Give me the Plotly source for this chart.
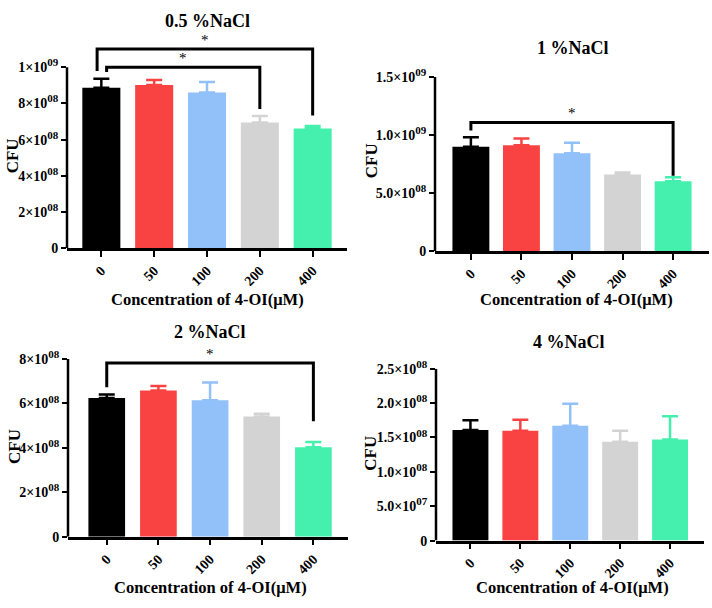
import plotly.graph_objects as go

W, H = 712, 608

# ---------------- data ----------------
conc_labels = ["0", "50", "100", "200", "400"]
bar_colors = ["#000000", "#F94343", "#92C0F8", "#D3D3D3", "#45F0AE"]
panel_titles = ["0.5 %NaCl", "1 %NaCl", "2 %NaCl", "4 %NaCl"]
x_title = "Concentration of 4-OI(μM)"
y_title = "CFU"

mean_05 = [8.86e8, 9.02e8, 8.61e8, 6.95e8, 6.61e8]
sd_05 = [0.50e8, 0.27e8, 0.57e8, 0.36e8, 0.14e8]
mean_1 = [9.00e8, 9.11e8, 8.44e8, 6.61e8, 6.03e8]
sd_1 = [0.80e8, 0.58e8, 0.89e8, 0.17e8, 0.33e8]
mean_2 = [6.25e8, 6.58e8, 6.15e8, 5.41e8, 4.03e8]
sd_2 = [0.16e8, 0.21e8, 0.80e8, 0.13e8, 0.24e8]
mean_4 = [1.61e8, 1.60e8, 1.67e8, 1.44e8, 1.47e8]
sd_4 = [0.14e8, 0.157e8, 0.32e8, 0.16e8, 0.34e8]

SUP = "<sup><span style='font-size:11px'>{}</span></sup>"

def sci(mant, exp):
    return f"{mant}×10" + SUP.format(exp)

tickvals_05 = [0, 2e8, 4e8, 6e8, 8e8, 1e9]
ticktext_05 = ["0", sci("2", "08"), sci("4", "08"), sci("6", "08"), sci("8", "08"), sci("1", "09")]
tickvals_1 = [0, 5e8, 1e9, 1.5e9]
ticktext_1 = ["0", sci("5.0", "08"), sci("1.0", "09"), sci("1.5", "09")]
tickvals_2 = [0, 2e8, 4e8, 6e8, 8e8]
ticktext_2 = ["0", sci("2", "08"), sci("4", "08"), sci("6", "08"), sci("8", "08")]
tickvals_4 = [0, 5e7, 1e8, 1.5e8, 2e8, 2.5e8]
ticktext_4 = ["0", sci("5.0", "07"), sci("1.0", "08"), sci("1.5", "08"),
              sci("2.0", "08"), sci("2.5", "08")]

# significance brackets: (left group, right group, top, left-leg end, right-leg end)
sig_05 = [(0, 4, 1.10e9, 0.979e9, 0.733e9),
          (0, 3, 1.00e9, 0.973e9, 0.770e9)]
sig_1 = [(0, 4, 1.108e9, 1.039e9, 0.65e9)]
sig_2 = [(0, 4, 7.82e8, 6.73e8, 5.2e8)]
sig_4 = []

# ---------------- layout geometry (pixels) ----------------
def px_x(p):
    return p / W

def px_y(p):
    return 1 - p / H

FONT = "Liberation Serif"

panels = [
    dict(means=mean_05, sds=sd_05, tv=tickvals_05, tt=ticktext_05, sig=sig_05,
         xdom=(67, 347), ydom=(245, 30), xr=(-0.65, 4.65), yr=(0, 1.15e9), ytop=1e9,
         title_xy=(207, 10), xt_xy=(207, 298), yt_xy=(12, 150), bar_w=0.72,
         sig_off=[(-0.08, 0.0), (0.1, 0.0)]),
    dict(means=mean_1, sds=sd_1, tv=tickvals_1, tt=ticktext_1, sig=sig_1,
         xdom=(435, 709), ydom=(248, 68), xr=(-0.71, 4.71), yr=(0, 1.5e9), ytop=1.5e9,
         title_xy=(573, 38), xt_xy=(576, 298), yt_xy=(371, 155), bar_w=0.73,
         sig_off=[(0.0, 0.0)]),
    dict(means=mean_2, sds=sd_2, tv=tickvals_2, tt=ticktext_2, sig=sig_2,
         xdom=(68, 348), ydom=(542.7, 359.3), xr=(-0.75, 4.67), yr=(0, 8e8), ytop=8e8,
         title_xy=(210, 331), xt_xy=(210, 595), yt_xy=(15, 450), bar_w=0.71,
         sig_off=[(0.0, 0.0)]),
    dict(means=mean_4, sds=sd_4, tv=tickvals_4, tt=ticktext_4, sig=sig_4,
         xdom=(436, 704), ydom=(546.7, 369.3), xr=(-0.69, 4.68), yr=(0, 2.5e8), ytop=2.5e8,
         title_xy=(569, 342), xt_xy=(572, 595), yt_xy=(371, 457), bar_w=0.72,
         sig_off=[]),
]

fig = go.Figure()
shapes = []
annotations = []
layout = {}

for k, p in enumerate(panels):
    sfx = "" if k == 0 else str(k + 1)
    xa, ya = "x" + sfx, "y" + sfx
    for i, lab in enumerate(conc_labels):
        fig.add_trace(go.Bar(
            x=[i], y=[p["means"][i]], width=p["bar_w"],
            marker=dict(color=bar_colors[i], line=dict(width=0)),
            error_y=dict(type="data", symmetric=False, array=[p["sds"][i]], arrayminus=[0],
                         color=bar_colors[i], thickness=2.5, width=8),
            xaxis=xa, yaxis=ya, showlegend=False, name=lab))
    layout["xaxis" + sfx] = dict(
        domain=[px_x(p["xdom"][0]), px_x(p["xdom"][1])], range=list(p["xr"]),
        anchor=ya, tickmode="array", tickvals=list(range(len(conc_labels))),
        ticktext=conc_labels, tickangle=-45, ticks="outside", ticklen=6, tickwidth=2,
        tickcolor="black", showline=True, linecolor="black", linewidth=2.5,
        showgrid=False, zeroline=False,
        tickfont=dict(family=FONT, size=14, color="black", weight="bold"))
    layout["yaxis" + sfx] = dict(
        domain=[px_y(p["ydom"][0]), px_y(p["ydom"][1])], range=list(p["yr"]),
        anchor=xa, tickmode="array", tickvals=p["tv"], ticktext=p["tt"],
        ticks="outside", ticklen=5, tickwidth=2, tickcolor="black",
        showline=False, showgrid=False, zeroline=False,
        tickfont=dict(family=FONT, size=14, color="black", weight="bold"))
    # y axis line drawn only up to the top tick
    shapes.append(dict(type="line", xref=xa + " domain", yref=ya, x0=0, x1=0,
                       y0=0, y1=p["ytop"], line=dict(color="black", width=2.5)))
    # brackets
    for (a, b, top, yl, yrr), (oa, ob) in zip(p["sig"], p["sig_off"]):
        xl, xr_ = a + oa, b + ob
        shapes.append(dict(type="path", xref=xa, yref=ya,
                           path=f"M {xl},{yl} L {xl},{top} L {xr_},{top} L {xr_},{yrr}",
                           line=dict(color="black", width=3)))
        annotations.append(dict(text="*", x=(xl + xr_) / 2, y=top, xref=xa, yref=ya,
                                showarrow=False, yanchor="middle", yshift=9,
                                font=dict(family=FONT, size=15, color="black")))
    # titles
    tx, ty = p["title_xy"]
    annotations.append(dict(text=panel_titles[k], x=px_x(tx), y=px_y(ty), xref="paper",
                            yref="paper", showarrow=False, xanchor="center", yanchor="middle",
                            font=dict(family=FONT, size=18, color="black", weight="bold")))
    tx, ty = p["xt_xy"]
    annotations.append(dict(text=x_title, x=px_x(tx), y=px_y(ty), xref="paper",
                            yref="paper", showarrow=False, xanchor="center", yanchor="middle",
                            font=dict(family=FONT, size=16.5, color="black", weight="bold")))
    tx, ty = p["yt_xy"]
    annotations.append(dict(text=y_title, x=px_x(tx), y=px_y(ty), xref="paper",
                            yref="paper", showarrow=False, xanchor="center", yanchor="middle",
                            textangle=-90,
                            font=dict(family=FONT, size=17, color="black", weight="bold")))

fig.update_layout(
    width=W, height=H, autosize=False,
    margin=dict(l=0, r=0, t=0, b=0),
    paper_bgcolor="white", plot_bgcolor="white",
    barmode="overlay", shapes=shapes, annotations=annotations, **layout)

fig.write_html("out.html")
